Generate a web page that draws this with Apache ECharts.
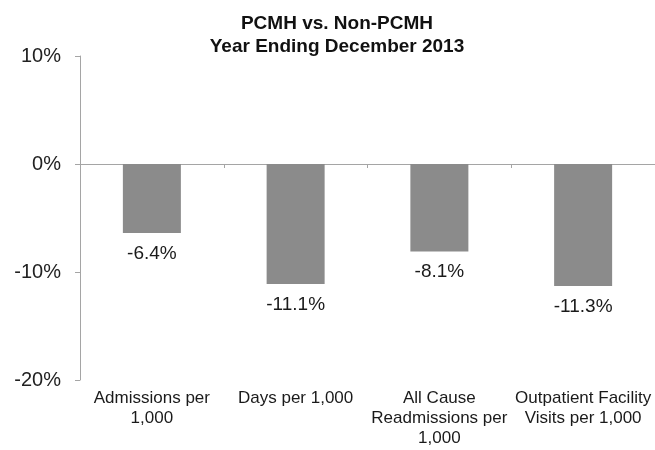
<!DOCTYPE html>
<html><head><meta charset="utf-8">
<script src="https://cdn.jsdelivr.net/npm/echarts@6/dist/echarts.min.js"></script>
<style>html,body{margin:0;padding:0;background:#fff}#c{width:655px;height:450px}</style>
</head><body><div id="c"></div>
<script>
const categories = ['Admissions per\n1,000', 'Days per 1,000', 'All Cause\nReadmissions per\n1,000', 'Outpatient Facility\nVisits per 1,000'];
const values = [-6.4, -11.1, -8.1, -11.3];
const yTicks = [-20, -10, 0, 10];
const titleLines = ['PCMH vs. Non-PCMH', 'Year Ending December 2013'];

const chart = echarts.init(document.getElementById('c'), null, {renderer: 'canvas'});
const font = 'Liberation Sans, Arial, sans-serif';
chart.setOption({
  animation: false,
  backgroundColor: '#fff',
  title: {
    text: titleLines.join('\n'),
    left: 332, top: 7, textAlign: 'center',
    textStyle: {fontFamily: font, fontSize: 19, fontWeight: 'bold', color: '#111', lineHeight: 23}
  },
  grid: {left: 80, right: -3, top: 56, bottom: 70, containLabel: false},
  xAxis: [{
    type: 'category', data: categories, position: 'bottom',
    axisLine: {show: false, onZero: false}, axisTick: {show: false},
    axisLabel: {fontFamily: font, fontSize: 17, color: '#1a1a1a', lineHeight: 20, margin: 8, interval: 0}
  }, {
    type: 'category', data: categories, position: 'bottom',
    axisLine: {show: true, onZero: true, lineStyle: {color: '#a5a5a5', width: 1}},
    axisTick: {show: true, length: 4, lineStyle: {color: '#a5a5a5'}},
    axisLabel: {show: false}
  }],
  yAxis: {
    type: 'value', min: yTicks[0], max: yTicks[yTicks.length - 1], interval: 10,
    axisLine: {show: true, lineStyle: {color: '#a5a5a5', width: 1}},
    axisTick: {show: true, length: 5, lineStyle: {color: '#a5a5a5'}},
    splitLine: {show: false},
    axisLabel: {formatter: v => v + '%', fontFamily: font, fontSize: 20, color: '#222', margin: 19}
  },
  series: [{
    type: 'bar', data: values, xAxisIndex: 0, barWidth: 58,
    itemStyle: {color: '#8b8b8b'},
    label: {show: true, position: 'bottom', distance: 11, formatter: p => p.value + '%',
      fontFamily: font, fontSize: 19, color: '#1a1a1a'}
  }]
});
</script></body></html>
